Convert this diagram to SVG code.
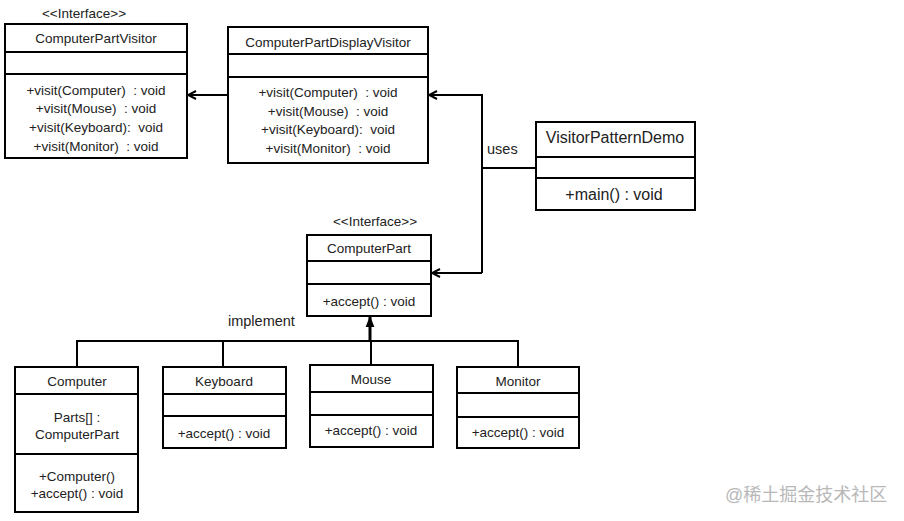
<svg xmlns="http://www.w3.org/2000/svg" width="904" height="521" viewBox="0 0 904 521">
<defs>
<style>
.box{fill:#fff;stroke:#000;stroke-width:2}
.ln{fill:none;stroke:#000;stroke-width:2}
.thick{stroke-width:3}
text{font-family:"Liberation Sans",Arial,sans-serif;font-size:13.5px;fill:#222;white-space:pre}
.c{text-anchor:middle}
.big{font-size:16px}
.lbl{font-size:14.5px}
.wm{font-family:"Liberation Sans","Noto Sans CJK SC",sans-serif;font-size:18px;fill:#b8b8b8}
</style>
<marker id="open" viewBox="0 0 10 10" refX="9" refY="5" markerWidth="10" markerHeight="10" markerUnits="userSpaceOnUse" orient="auto">
<path d="M1,1 L9,5 L1,9" fill="none" stroke="#000" stroke-width="2"/>
</marker>
<marker id="fill" viewBox="0 0 10 10" refX="9" refY="5" markerWidth="11" markerHeight="11" markerUnits="userSpaceOnUse" orient="auto">
<path d="M0,1 L10,5 L0,9 Z" fill="#000"/>
</marker>
</defs>
<rect width="904" height="521" fill="#fff"/>

<g id="connectors">
<line class="ln" x1="228" y1="95" x2="188" y2="95" marker-end="url(#open)"/>
<polyline class="ln" points="536,168 482,168"/>
<polyline class="ln" points="482,273 482,95 429,95" marker-end="url(#open)"/>
<polyline class="ln" points="482,273 432,273" marker-end="url(#open)"/>
<text class="lbl" x="487" y="154">uses</text>
<polyline class="ln" points="77,367 77,341 518,341 518,367"/>
<line class="ln" x1="223" y1="341" x2="223" y2="367"/>
<line class="ln" x1="371" y1="341" x2="371" y2="365"/>
<line class="ln thick" x1="370" y1="341" x2="370" y2="317" marker-end="url(#fill)"/>
<text class="lbl" x="228" y="326">implement</text>
</g>

<g id="ComputerPartVisitor">
<text class="c" x="84" y="18">&lt;&lt;Interface&gt;&gt;</text>
<rect class="box" x="5" y="24" width="182" height="134"/>
<line class="ln" x1="5" y1="52" x2="187" y2="52"/>
<line class="ln" x1="5" y1="74" x2="187" y2="74"/>
<text class="c" x="96" y="43">ComputerPartVisitor</text>
<text class="c" x="96" y="95">+visit(Computer)  : void</text>
<text class="c" x="96" y="113">+visit(Mouse)  : void</text>
<text class="c" x="96" y="132">+visit(Keyboard):  void</text>
<text class="c" x="96" y="151">+visit(Monitor)  : void</text>
</g>

<g id="ComputerPartDisplayVisitor">
<rect class="box" x="228" y="27" width="200" height="136"/>
<line class="ln" x1="228" y1="54" x2="428" y2="54"/>
<line class="ln" x1="228" y1="77" x2="428" y2="77"/>
<text class="c" x="328" y="47">ComputerPartDisplayVisitor</text>
<text class="c" x="328" y="97">+visit(Computer)  : void</text>
<text class="c" x="328" y="116">+visit(Mouse)  : void</text>
<text class="c" x="328" y="134">+visit(Keyboard):  void</text>
<text class="c" x="328" y="153">+visit(Monitor)  : void</text>
</g>

<g id="VisitorPatternDemo">
<rect class="box" x="536" y="122" width="159" height="88"/>
<line class="ln" x1="536" y1="157" x2="695" y2="157"/>
<line class="ln" x1="536" y1="178" x2="695" y2="178"/>
<text class="c big" x="615" y="143">VisitorPatternDemo</text>
<text class="c big" x="614" y="200">+main() : void</text>
</g>

<g id="ComputerPart">
<text class="c" x="375" y="226">&lt;&lt;Interface&gt;&gt;</text>
<rect class="box" x="307" y="235" width="124" height="81"/>
<line class="ln" x1="307" y1="261" x2="431" y2="261"/>
<line class="ln" x1="307" y1="284" x2="431" y2="284"/>
<text class="c" x="369" y="253">ComputerPart</text>
<text class="c" x="369" y="306">+accept() : void</text>
</g>

<g id="Computer">
<rect class="box" x="15" y="367" width="123" height="145"/>
<line class="ln" x1="15" y1="394" x2="138" y2="394"/>
<line class="ln" x1="15" y1="454" x2="138" y2="454"/>
<text class="c" x="77" y="386">Computer</text>
<text class="c" x="77" y="422">Parts[] :</text>
<text class="c" x="77" y="439">ComputerPart</text>
<text class="c" x="77" y="481">+Computer()</text>
<text class="c" x="77" y="498">+accept() : void</text>
</g>

<g id="Keyboard">
<rect class="box" x="163" y="367" width="123" height="81"/>
<line class="ln" x1="163" y1="394" x2="286" y2="394"/>
<line class="ln" x1="163" y1="416" x2="286" y2="416"/>
<text class="c" x="224" y="386">Keyboard</text>
<text class="c" x="224" y="438">+accept() : void</text>
</g>

<g id="Mouse">
<rect class="box" x="310" y="365" width="123" height="82"/>
<line class="ln" x1="310" y1="392" x2="433" y2="392"/>
<line class="ln" x1="310" y1="415" x2="433" y2="415"/>
<text class="c" x="371" y="384">Mouse</text>
<text class="c" x="371" y="435">+accept() : void</text>
</g>

<g id="Monitor">
<rect class="box" x="457" y="367" width="122" height="81"/>
<line class="ln" x1="457" y1="393" x2="579" y2="393"/>
<line class="ln" x1="457" y1="417" x2="579" y2="417"/>
<text class="c" x="518" y="386">Monitor</text>
<text class="c" x="518" y="437">+accept() : void</text>
</g>

<text class="wm" x="725" y="501">@稀土掘金技术社区</text>
</svg>
